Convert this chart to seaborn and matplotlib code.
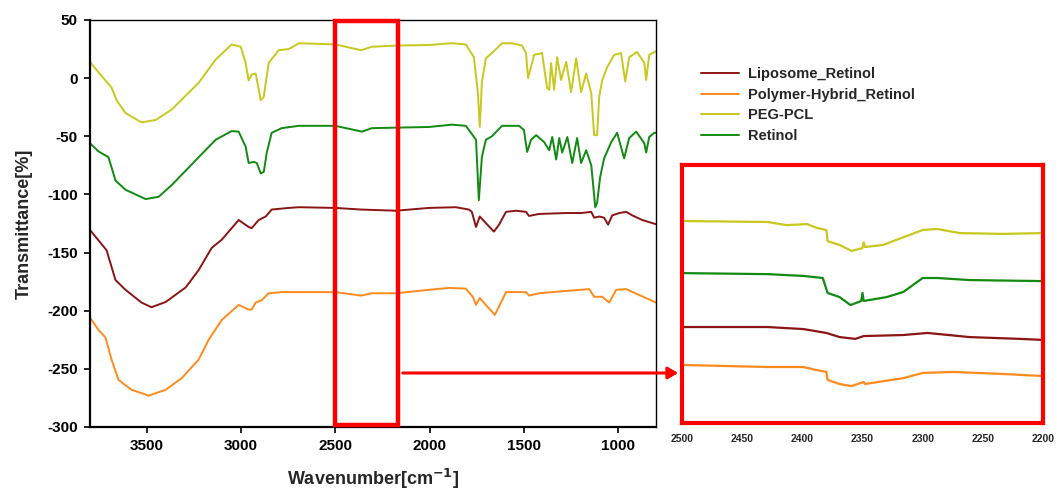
import numpy as np
import pandas as pd
import matplotlib
matplotlib.use("Agg")
import matplotlib.pyplot as plt
from matplotlib.patches import Rectangle, FancyArrowPatch
import seaborn as sns

# ---------------- data ----------------
series_names = ["Liposome_Retinol", "Polymer-Hybrid_Retinol", "PEG-PCL", "Retinol"]
series_colors = ["#8B1414", "#FF8A1E", "#C8C81E", "#128A12"]

peg_wn = [3800, 3755, 3686, 3659, 3612, 3527, 3452, 3367, 3224, 3134, 3049, 3001, 2975, 2959,
          2943, 2922, 2895, 2879, 2853, 2800, 2746, 2693, 2500, 2363, 2306, 2178, 2003, 1882,
          1808, 1765, 1744, 1734, 1723, 1702, 1670, 1616, 1563, 1510, 1489, 1478, 1462, 1446,
          1404, 1377, 1366, 1356, 1340, 1324, 1303, 1276, 1250, 1223, 1197, 1170, 1143, 1128,
          1112, 1101, 1085, 1058, 1022, 985, 963, 942, 900, 862, 852, 836, 809, 800]
peg_t = [14, 5, -8, -19, -30, -38, -36, -27, -4, 16, 29, 27, 13, -2,
         3, 4, -19, -16, 13, 24, 25, 30, 29, 24, 27, 28, 28.5, 30,
         29, 18, -13, -42, -4, 17, 21.6, 30, 30, 28, 21.6, 0, 10, 20,
         21.6, -8.5, -10, 13, -10, 18, -1.6, 14, -12, 17, -12, 4, -13, -49,
         -49, -16, -1.6, 9.6, 20, 21.6, -3, 18, 22.5, 13, -1.6, 20, 22.5, 23]

ret_wn = [3800, 3755, 3702, 3665, 3612, 3505, 3436, 3367, 3224, 3134, 3049, 3012, 2975, 2959,
          2932, 2916, 2895, 2879, 2863, 2837, 2784, 2693, 2500, 2358, 2306, 2003, 1882, 1808,
          1754, 1739, 1723, 1702, 1670, 1616, 1526, 1500, 1483, 1462, 1435, 1393, 1366, 1350,
          1329, 1313, 1297, 1270, 1244, 1218, 1197, 1170, 1143, 1122, 1112, 1096, 1075, 1037,
          1006, 969, 942, 905, 862, 852, 836, 809, 800]
ret_t = [-56, -63, -68, -88, -96, -104, -102, -92, -68, -53, -45.5, -46, -59, -73,
         -72, -73, -82, -80.6, -64, -47, -43, -41, -41, -46, -43, -42, -40, -41,
         -53, -105, -68, -53, -50, -41, -41, -44.6, -63.5, -53, -49, -55, -62, -50.6,
         -70, -51.5, -64, -50.6, -73, -51.5, -73, -62, -75, -111, -107, -85, -69, -55,
         -47, -69, -51.5, -46, -56, -64, -50.6, -47, -47]

lip_wn = [3800, 3712, 3665, 3612, 3527, 3474, 3399, 3293, 3224, 3155, 3102, 3012, 2959, 2943,
          2906, 2869, 2837, 2746, 2693, 2500, 2363, 2178, 2003, 1861, 1792, 1776, 1754, 1734,
          1702, 1659, 1632, 1595, 1542, 1489, 1473, 1420, 1276, 1197, 1143, 1128, 1101, 1075,
          1054, 1032, 995, 958, 926, 873, 800]
lip_t = [-130.6, -148, -173.6, -182, -193, -197, -192.5, -180, -165, -146, -139, -122, -128, -129,
         -122, -119, -113, -111.6, -111, -111.6, -113, -114, -111.6, -111, -113, -115, -128, -119,
         -124.6, -132, -126, -115, -114, -115, -118.5, -116.8, -116, -116, -115, -120, -119, -120,
         -126, -118, -116, -115, -118, -122, -125.6]

pol_wn = [3800, 3755, 3718, 3686, 3649, 3580, 3489, 3399, 3314, 3224, 3171, 3102, 3012, 2959,
          2943, 2922, 2890, 2853, 2784, 2693, 2500, 2363, 2306, 2178, 2003, 1897, 1808, 1771,
          1754, 1734, 1702, 1654, 1622, 1595, 1489, 1473, 1420, 1276, 1154, 1128, 1085, 1048,
          1011, 958, 889, 800]
pol_t = [-206, -216.5, -223, -242, -259.5, -268, -273, -268, -258, -242, -225, -208, -195, -199,
         -199, -193, -191, -185, -184, -184, -184, -187, -185, -185, -182, -180.4, -181, -188,
         -195, -189, -195, -203.6, -193, -184, -184, -187, -185, -183, -181.4, -188, -188, -193,
         -182, -181.4, -186.5, -193]

# inset (2500-2200 cm-1), relative units
in_peg_wn = [2500, 2429, 2413, 2396, 2388, 2380, 2379, 2369, 2359, 2350, 2349, 2348, 2333, 2316,
             2300, 2288, 2269, 2233, 2200]
in_peg_t = [78.3, 77.9, 76.7, 77.1, 75.6, 74.8, 70.5, 69, 66.7, 67.8, 70, 68.2, 69, 72,
            74.8, 75.2, 73.6, 73.3, 73.6]
in_ret_wn = [2500, 2429, 2399, 2383, 2379, 2369, 2360, 2351, 2350, 2349, 2330, 2316, 2300, 2288,
             2261, 2200]
in_ret_t = [58.1, 57.7, 57, 56.2, 50.4, 48.8, 45.7, 47.3, 50.4, 47.3, 48.8, 50.8, 56.2, 56.2,
            55.4, 55]
in_lip_wn = [2500, 2429, 2399, 2380, 2369, 2356, 2349, 2316, 2296, 2261, 2219, 2200]
in_lip_t = [37.2, 37.2, 36.4, 34.9, 33.3, 32.6, 33.7, 34.1, 34.9, 33.3, 32.6, 32.2]
in_pol_wn = [2500, 2429, 2399, 2388, 2380, 2379, 2369, 2359, 2349, 2348, 2316, 2300, 2275, 2233,
             2200]
in_pol_t = [22.5, 21.7, 21.7, 20.5, 19.8, 16.7, 15.1, 14.3, 15.9, 15.1, 17.4, 19.4, 19.8, 19,
            18.2]

main_xticks = [3500, 3000, 2500, 2000, 1500, 1000]
main_yticks = [50, 0, -50, -100, -150, -200, -250, -300]
inset_xticks = [2500, 2450, 2400, 2350, 2300, 2250, 2200]

# ---------------- build frames ----------------
def frame(pairs):
    parts = []
    for name, wn, t in pairs:
        parts.append(pd.DataFrame({"wn": wn, "T": t, "series": name}))
    return pd.concat(parts, ignore_index=True)

main_df = frame([(series_names[0], lip_wn, lip_t), (series_names[1], pol_wn, pol_t),
                 (series_names[2], peg_wn, peg_t), (series_names[3], ret_wn, ret_t)])
inset_df = frame([(series_names[0], in_lip_wn, in_lip_t), (series_names[1], in_pol_wn, in_pol_t),
                  (series_names[2], in_peg_wn, in_peg_t), (series_names[3], in_ret_wn, in_ret_t)])

sns.set_style("white")
plt.rcParams["font.family"] = ["Liberation Sans", "DejaVu Sans"]
plt.rcParams["font.weight"] = "bold"
plt.rcParams["axes.labelweight"] = "bold"
plt.rcParams["axes.unicode_minus"] = False

W, H = 1057, 497
fig = plt.figure(figsize=(W / 100, H / 100), dpi=100)

ax = fig.add_axes([90 / W, 1 - 427 / H, (656 - 90) / W, (427 - 20) / H])
sns.lineplot(data=main_df, x="wn", y="T", hue="series", hue_order=series_names,
             palette=series_colors, estimator=None, sort=True, linewidth=1.4, ax=ax)
ax.set_xlim(3800, 800)
ax.set_ylim(-300, 50)
ax.set_xticks(main_xticks)
ax.set_yticks(main_yticks)
ax.tick_params(axis="both", which="both", direction="out", length=4, width=1.2,
               labelsize=11, colors="black", left=True, bottom=True, pad=5)
for s in ax.spines.values():
    s.set_color("black")
    s.set_linewidth(1.0)
ax.spines["left"].set_linewidth(1.6)
ax.spines["bottom"].set_linewidth(1.6)
ax.set_xlabel("Wavenumber[cm$^{\\mathbf{-1}}$]", fontsize=13, fontweight="bold", labelpad=10)
ax.set_ylabel("Transmittance[%]", fontsize=13, fontweight="bold", labelpad=10)

handles, labels = ax.get_legend_handles_labels()
ax.get_legend().remove()
fig.legend(handles, labels, loc="upper left", bbox_to_anchor=(688 / W, 1 - 54 / H),
           frameon=False, prop={"weight": "bold", "size": 10.5}, handlelength=2.6,
           handletextpad=0.6, labelspacing=0.45)

# red highlight rectangle
ax.add_patch(Rectangle((2500, -298.5), 2170 - 2500, 348, fill=False, edgecolor="#FF0000",
                       linewidth=3.2, zorder=5, clip_on=False))

# inset
axi = fig.add_axes([682 / W, 1 - 423 / H, (1043 - 682) / W, (423 - 165) / H])
sns.lineplot(data=inset_df, x="wn", y="T", hue="series", hue_order=series_names,
             palette=series_colors, estimator=None, sort=True, linewidth=1.6, ax=axi, legend=False)
axi.set_xlim(2500, 2200)
axi.set_ylim(0, 100)
axi.set_xticks(inset_xticks)
axi.set_yticks([])
axi.set_xlabel("")
axi.set_ylabel("")
axi.tick_params(axis="x", length=0, labelsize=7.5, pad=8)
for s in axi.spines.values():
    s.set_color("#FF0000")
    s.set_linewidth(3.0)

# arrow from rectangle to inset
fig.patches.append(FancyArrowPatch(
    (400 / W, 1 - 373 / H), (681 / W, 1 - 373 / H), transform=fig.transFigure,
    arrowstyle="-|>,head_length=6,head_width=3.5", color="#FF0000", linewidth=2.2))

fig.savefig("out.png", dpi=100)
